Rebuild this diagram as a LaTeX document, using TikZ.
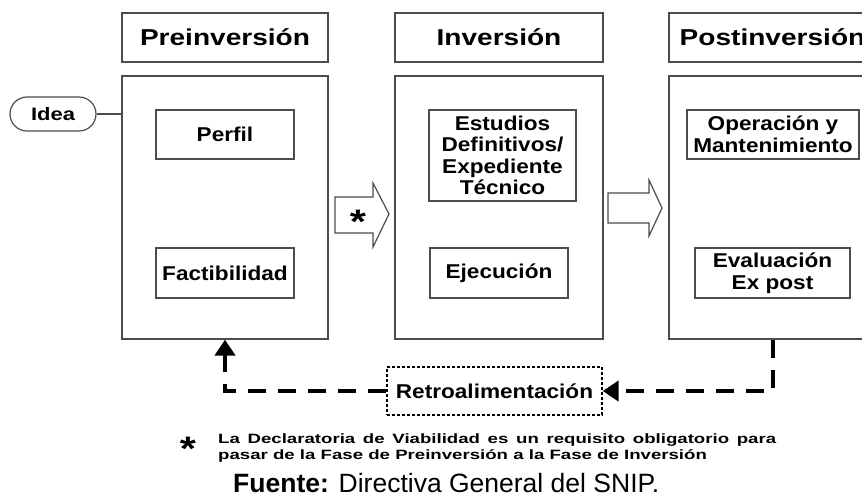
\documentclass[tikz,border=0pt]{standalone}
\usepackage{fontspec}
\setmainfont{Liberation Sans}
\newfontfamily\headfont[FakeStretch=1.22]{Liberation Sans}
\newfontfamily\boxfont[FakeStretch=1.13]{Liberation Sans}
\newfontfamily\notefont[FakeStretch=1.38]{Liberation Sans}
\usetikzlibrary{arrows.meta}
\begin{document}
\begin{tikzpicture}[x=1pt, y=-1pt,
		phase/.style={draw=black!70, line width=1.2pt, inner sep=0pt},
		head/.style={phase, minimum height=49pt, font=\headfont\bfseries\fontsize{23}{26}\selectfont},
		item/.style={phase, align=center, font=\boxfont\bfseries\fontsize{20}{21.5}\selectfont},
		blockarrow/.style={draw=black!70, line width=1.2pt, line join=miter},
		feed/.style={line width=4pt, dash pattern=on 18pt off 12pt, -{Triangle[length=16pt, width=20pt]}}]
	\clip (0,0) rectangle (862,496);
	% phases
	\node[head, minimum width=206pt] (prehead) at (225,37.5) {Preinversión};
	\node[head, minimum width=208pt] (invhead) at (499,37.5) {Inversión};
	\node[head, minimum width=207pt] (posthead) at (772.5,37.5) {Postinversión};
	\node[phase, minimum width=206pt, minimum height=263pt] (prebox) at (225,207.5) {};
	\node[phase, minimum width=208pt, minimum height=263pt] (invbox) at (499,207.5) {};
	\node[phase, minimum width=207pt, minimum height=263pt] (postbox) at (772.5,207.5) {};
	% steps
	\node[item, minimum width=138pt, minimum height=49pt] (perfil) at (225,134.5) {Perfil};
	\node[item, minimum width=138pt, minimum height=50pt] (factib) at (225,273) {Factibilidad};
	\node[item, minimum width=147pt, minimum height=91pt] (estudios) at (502.5,155.5) {Estudios\\Definitivos/\\Expediente\\Técnico};
	\node[item, minimum width=138pt, minimum height=50pt] (ejec) at (499,273) {Ejecución};
	\node[item, minimum width=172pt, minimum height=49pt] (operacion) at (773,134.5) {Operación y\\Mantenimiento};
	\node[item, minimum width=155pt, minimum height=50pt] (evaluacion) at (772.5,273) {Evaluación\\Ex post};
	\node[phase, rounded corners=17pt, minimum width=86pt, minimum height=34pt, font=\headfont\bfseries\fontsize{18}{20}\selectfont] (idea) at (53,114) {Idea};
	\draw[black!70, line width=1.2pt] (idea) -- (idea -| prebox.west);
	% block arrows
	\draw[blockarrow] (335,197) -- (373,197) -- (373,183) -- (389,214) -- (373,247) -- (373,233) -- (335,233) -- cycle;
	\node[font=\headfont\bfseries\fontsize{34}{34}\selectfont, inner sep=0pt] (star) at (358,222) {*};
	\draw[blockarrow] (608,193) -- (649,193) -- (649,180) -- (662,208) -- (649,236) -- (649,223) -- (608,223) -- cycle;
	% feedback
	\node[item, draw=black, dash pattern=on 3pt off 2pt, minimum width=215pt, minimum height=48pt] (retro) at (494.5,391) {Retroalimentación};
	\draw[feed] (postbox.south) |- (retro.east);
	\draw[feed] (retro.west) -| (prebox.south);
	% note
	\node[font=\headfont\bfseries\fontsize{34}{34}\selectfont, inner sep=0pt] (notestar) at (188,449) {*};
	\node[anchor=north west, inner sep=0pt, align=left, font=\notefont\bfseries\fontsize{13.5}{16}\selectfont] (nota) at (218,434)
		{\makebox[558pt][s]{La Declaratoria de Viabilidad es un requisito obligatorio para}\\pasar de la Fase de Preinversión a la Fase de Inversión};
	\node[anchor=base west, inner sep=0pt, font=\fontsize{26.5}{28}\selectfont] (fuente) at (233,492) {\textbf{Fuente:} Directiva General del SNIP.};
\end{tikzpicture}
\end{document}
